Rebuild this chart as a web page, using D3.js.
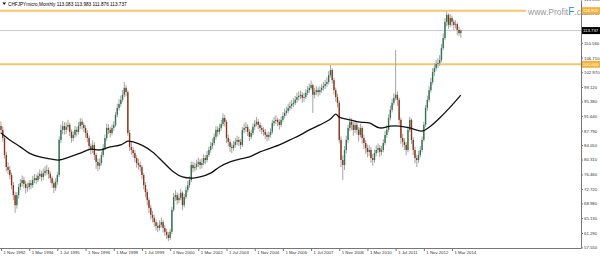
<!DOCTYPE html>
<html>
<head>
<meta charset="utf-8">
<script src="https://cdn.jsdelivr.net/npm/d3@7"></script>
<style>
  body { margin: 0; background: #fff; }
  svg { display: block; }
  text { font-family: "Liberation Sans", Arial, sans-serif; }
</style>
</head>
<body>
<svg width="600" height="256"></svg>
<script>
const title = 'CHFJPYmicro,Monthly 113.083 113.983 111.876 113.737';
const firstOpen = 89.0; // open of the first bar (Nov 1992), later opens = previous close

// monthly closes, Nov 1992 .. Aug 2014
const closes = [
  88.0,85.9,81.5,78.4,77.6,76.3,73.7,71.1,68.5,71.1,
  73.2,74.2,75.0,74.0,73.0,73.2,74.2,73.7,75.0,75.5,
  75.0,76.1,76.6,75.8,76.8,77.4,77.6,76.6,75.5,74.2,
  73.0,74.5,76.3,85.4,88.0,89.0,88.0,88.8,89.3,87.5,
  85.9,86.7,88.0,87.5,89.0,90.1,89.3,88.5,87.2,85.9,
  83.8,82.8,84.1,81.5,79.7,78.7,79.4,81.5,83.3,85.9,
  88.5,88.0,87.2,88.5,89.3,91.9,93.7,94.7,95.8,97.1,
  98.9,97.8,87.2,83.6,82.8,82.0,80.7,79.4,78.9,78.4,
  76.3,73.7,71.9,69.8,67.8,66.0,65.2,64.1,63.1,62.6,
  63.4,64.1,62.6,61.6,60.8,60.0,61.6,67.3,70.6,71.1,
  69.8,70.4,71.7,68.5,70.6,72.4,73.7,75.0,78.9,78.1,
  78.4,79.2,79.7,78.9,79.4,80.7,80.2,81.5,82.8,83.8,
  84.6,86.2,88.0,87.5,88.5,89.5,91.1,90.1,85.9,84.9,
  83.6,83.3,84.1,84.9,85.4,84.9,84.1,88.0,88.5,88.8,
  87.5,86.2,87.2,88.8,89.5,90.1,89.3,88.5,88.0,87.5,
  86.7,86.2,86.7,87.5,89.8,90.3,90.6,90.1,89.3,90.6,
  91.6,92.4,92.9,93.7,94.2,94.7,95.0,95.8,96.5,96.8,
  97.1,96.3,96.5,97.6,98.3,98.9,99.6,97.1,97.8,98.3,
  97.8,98.3,98.9,99.4,99.9,100.4,102.2,103.5,100.9,98.3,
  96.5,95.0,85.4,80.2,78.9,82.8,85.4,88.5,90.1,89.3,
  88.0,89.3,88.0,86.7,88.5,85.9,84.6,83.3,82.3,82.8,
  80.7,80.2,82.0,82.8,83.3,82.3,82.8,84.6,86.7,88.0,
  91.1,93.2,95.0,96.3,97.1,95.8,90.6,85.9,84.9,84.1,
  82.8,88.0,90.6,85.4,82.8,80.7,80.2,81.5,82.8,85.4,
  89.3,93.7,95.8,98.3,100.4,103.0,104.0,105.1,105.3,106.1,
  109.2,111.8,116.0,117.8,115.2,117.0,116.0,115.2,115.4,113.9,
  113.083,113.737
];
const highs = [
  90.2,88.9,86.5,82.4,79.6,78.7,77.0,74.5,72.0,71.9,
  74.0,75.3,76.2,75.9,74.8,74.3,75.0,75.1,76.1,76.6,
  76.4,77.0,77.8,77.4,78.0,78.6,79.0,78.3,77.2,76.0,
  74.9,75.4,77.0,86.3,89.4,90.3,90.0,89.9,90.6,89.9,
  88.1,87.6,89.0,88.8,90.0,91.1,90.9,90.0,89.2,87.9,
  86.6,84.5,85.3,84.8,82.0,80.6,80.6,82.4,84.3,86.8,
  89.6,89.5,88.7,89.4,90.3,92.7,94.8,96.0,96.9,98.3,
  100.4,99.6,98.2,88.0,84.9,83.6,82.8,81.4,80.5,79.8,
  78.9,76.9,74.5,72.6,70.5,68.6,67.0,66.0,64.8,64.0,
  64.6,65.3,64.7,63.3,62.4,61.5,62.4,68.1,71.7,72.4,
  71.8,71.5,72.7,72.1,71.4,73.3,74.8,76.0,79.8,79.8,
  79.5,80.3,80.8,80.4,80.6,81.7,81.5,82.6,83.7,84.9,
  85.8,87.1,89.0,88.9,89.6,90.6,92.3,91.9,90.6,86.8,
  85.6,84.5,85.2,85.9,86.5,86.2,85.7,88.8,89.7,90.0,
  89.5,88.2,88.1,89.7,90.6,91.3,90.8,90.0,89.3,88.7,
  88.3,87.4,87.6,88.4,90.6,91.4,91.8,91.2,90.8,91.5,
  92.6,93.5,94.0,94.8,95.3,95.8,96.2,96.8,97.6,98.0,
  98.2,97.8,97.6,98.6,99.4,100.0,100.8,100.0,98.9,99.4,
  99.0,99.3,99.9,100.5,101.0,101.6,103.2,104.8,104.0,101.5,
  99.0,97.4,95.7,86.3,81.4,83.8,86.5,89.4,91.2,91.0,
  90.0,90.5,90.2,88.8,89.6,89.0,86.8,85.4,84.2,84.0,
  83.5,81.8,82.9,84.0,84.5,84.1,83.9,85.6,87.7,89.2,
  92.0,94.3,96.1,97.5,108.7,98.0,96.4,91.2,87.0,85.8,
  84.9,88.9,91.4,91.0,86.1,83.6,81.5,82.6,83.8,86.3,
  90.1,94.5,96.9,99.3,101.5,104.0,105.3,106.2,106.5,107.4,
  110.3,113.0,117.0,118.6,118.2,118.0,117.6,116.6,116.4,115.8,
  114.8,113.983
];
const lows = [
  87.0,85.0,80.6,77.2,76.5,75.2,72.6,69.8,66.5,67.6,
  70.2,72.4,73.3,72.8,71.5,72.0,72.5,72.6,73.0,74.2,
  73.9,74.5,75.3,74.7,75.0,76.0,76.4,75.4,74.3,73.0,
  71.6,72.2,73.8,75.8,84.6,86.9,86.8,87.0,87.9,86.4,
  84.7,85.1,85.9,86.3,86.8,88.2,88.1,87.4,86.0,84.8,
  82.7,81.6,82.0,80.2,77.9,77.3,77.8,78.8,80.9,82.7,
  85.2,86.9,86.0,86.6,87.8,88.8,91.2,93.0,94.0,95.2,
  96.5,96.7,86.5,82.5,81.6,80.8,79.6,78.2,77.7,77.2,
  75.2,72.6,70.6,68.5,66.4,64.8,64.0,62.9,61.9,61.5,
  61.9,62.7,61.4,60.5,59.7,59.2,59.5,61.0,66.8,69.6,
  68.6,69.0,69.8,67.2,67.9,70.0,71.8,73.0,74.5,77.0,
  77.3,77.6,78.4,77.8,78.0,78.8,79.1,79.6,81.0,82.1,
  83.0,84.0,85.5,86.3,86.8,87.8,88.9,88.9,84.6,83.7,
  82.3,82.0,82.6,83.4,84.0,83.8,83.0,83.6,87.1,87.5,
  86.4,85.1,85.6,86.6,88.0,88.9,88.2,87.6,86.9,86.5,
  85.6,85.0,85.3,86.0,87.0,89.0,89.5,89.0,88.1,88.7,
  90.0,91.0,91.7,92.3,93.0,93.4,93.9,94.4,95.0,95.6,
  95.9,95.0,95.3,96.0,97.0,97.6,98.4,92.4,96.2,97.0,
  96.6,97.0,97.6,98.2,98.6,99.1,99.8,101.6,100.0,97.2,
  95.3,93.8,84.5,78.4,75.0,77.6,81.9,84.6,87.7,88.0,
  86.5,87.2,86.8,85.0,86.0,84.5,83.0,81.8,80.9,81.2,
  79.5,78.7,79.5,81.2,82.0,81.0,81.4,82.2,84.0,86.0,
  87.4,90.5,92.5,94.4,95.6,94.2,89.4,84.4,83.5,82.8,
  81.4,82.2,87.4,84.3,81.5,79.3,78.4,79.4,80.9,82.2,
  85.0,88.8,93.0,95.2,97.7,99.8,102.0,103.2,104.0,104.6,
  105.5,108.6,111.2,114.8,114.2,114.6,114.9,113.9,114.3,112.6,
  112.4,111.876
];

// moving average line, read at these bar indexes
const maIdx = [0,5,11,16,22,28,33,39,45,51,56,62,68,72,75,81,86,92,98,103,
  109,113,119,124,130,136,141,147,153,158,164,170,175,181,187,190,192,198,204,209,
  215,221,226,232,239,243,249,255,261];
const maVal = [87.2,85.4,83.6,82.0,81.0,80.5,80.2,81.0,82.0,83.0,82.8,83.6,84.1,85.1,84.9,83.8,82.3,79.7,77.1,75.8,
  75.5,75.8,76.8,78.4,79.7,80.5,81.0,82.3,83.3,84.1,85.4,86.7,88.0,89.3,90.8,92.1,91.3,90.6,90.0,89.8,
  88.5,89.0,89.0,88.5,87.7,88.7,91.1,93.9,97.0];

const levels = [118.9, 105.0];
const levelLabels = ['118.900', '105.000'];
const lastPrice = 113.737;

const yTicks = ['57.550','61.290','65.130','68.980','72.720','76.460','80.310','84.050','87.790',
  '91.640','95.380','99.120','102.970','106.710','110.560','114.300','118.150','121.890'];
const xTicks = ['1 Nov 1992','1 Mar 1994','1 Jul 1995','1 Nov 1996','1 Mar 1998','1 Jul 1999',
  '1 Nov 2000','1 Mar 2002','1 Jul 2003','1 Nov 2004','1 Mar 2006','1 Jul 2007','1 Nov 2008',
  '1 Mar 2010','1 Jul 2011','1 Nov 2012','1 Mar 2014'];

const W = 600, axisX = 581, axisY = 248;
const font = '"Liberation Sans", Arial, sans-serif';
const svg = d3.select('svg');

const x = d3.scaleLinear().domain([0, 256]).range([1, 452]);
const y = d3.scaleLinear().domain([57.40, 121.66]).range([axisY, 0]);

const parseTick = d3.timeParse('%d %b %Y');
const tickIndex = s => { const d = parseTick(s); return (d.getFullYear() - 1992) * 12 + d.getMonth() - 10; };

const bars = closes.map((c, i) => ({i, o: i ? closes[i-1] : firstOpen, c, h: highs[i], l: lows[i]}));

svg.append('clipPath').attr('id', 'plot').append('rect')
  .attr('x', 0).attr('y', 0).attr('width', axisX).attr('height', axisY);

const plot = svg.append('g').attr('clip-path', 'url(#plot)');

// horizontal levels
plot.selectAll('line.lvl').data(levels).enter().append('line')
  .attr('x1', 0).attr('x2', axisX).attr('y1', d => y(d)).attr('y2', d => y(d))
  .attr('stroke', '#f9c46b').attr('stroke-width', 2);

// bid line
plot.append('line').attr('x1', 0).attr('x2', axisX).attr('y1', y(lastPrice)).attr('y2', y(lastPrice))
  .attr('stroke', '#c8c8c8').attr('stroke-width', 1);

// wicks
plot.selectAll('line.wick').data(bars).enter().append('line')
  .attr('x1', d => x(d.i)).attr('x2', d => x(d.i))
  .attr('y1', d => y(d.h)).attr('y2', d => y(d.l))
  .attr('stroke', '#a4a4a4').attr('stroke-width', 1);

// bodies
plot.selectAll('rect.body').data(bars).enter().append('rect')
  .attr('x', d => x(d.i) - 0.7).attr('width', 1.4)
  .attr('y', d => y(Math.max(d.o, d.c)))
  .attr('height', d => Math.max(0.8, Math.abs(y(d.o) - y(d.c))))
  .attr('fill', d => d.c >= d.o ? '#2f7550' : '#8f3414');

// moving average
plot.append('path').datum(maIdx.map((k, j) => [k, maVal[j]]))
  .attr('fill', 'none').attr('stroke', '#111').attr('stroke-width', 1.3)
  .attr('d', d3.line().x(d => x(d[0])).y(d => y(d[1])).curve(d3.curveCatmullRom));

// right axis
const ya = svg.append('g').attr('transform', `translate(${axisX},0)`)
  .call(d3.axisRight(y).tickValues(yTicks.map(Number)).tickFormat((d, i) => yTicks[i])
    .tickSize(2).tickSizeOuter(0).tickPadding(1));
ya.select('.domain').attr('stroke', '#777');
ya.selectAll('.tick line').attr('stroke', '#777');
ya.selectAll('.tick text').attr('font-size', 4.3).attr('fill', '#333').attr('font-family', font);

// bottom axis
svg.append('line').attr('x1', 0).attr('x2', axisX).attr('y1', axisY + 0.5).attr('y2', axisY + 0.5)
  .attr('stroke', '#777');
const xa = svg.append('g').attr('transform', `translate(0,${axisY})`)
  .call(d3.axisBottom(x).tickValues(xTicks.map(tickIndex)).tickFormat((d, i) => xTicks[i]).tickSize(3).tickSizeOuter(0));
xa.select('.domain').remove();
xa.selectAll('.tick line').attr('stroke', '#777');
xa.selectAll('.tick text').attr('text-anchor', 'start').attr('x', 2).attr('y', 6.3).attr('dy', 0)
  .attr('font-size', 4.3).attr('fill', '#333').attr('font-family', font);

// watermark
svg.append('rect').attr('x', 526).attr('y', 6).attr('width', 55).attr('height', 11).attr('fill', '#fff');
const wm = svg.append('text').attr('x', 528).attr('y', 14.5).attr('font-size', 8.5).attr('fill', '#999');
wm.append('tspan').text('www.Profit');
wm.append('tspan').text('F').attr('fill', '#2b8fc0').attr('font-size', 10);
wm.append('tspan').text('.com');

// level price boxes
levels.forEach((v, k) => {
  svg.append('rect').attr('x', axisX + 1).attr('y', y(v) - 3.5).attr('width', W - axisX - 1).attr('height', 7).attr('fill', '#f4b23c');
  svg.append('text').attr('x', axisX + 2).attr('y', y(v) + 1.6).attr('font-size', 4.3).attr('fill', '#fff').text(levelLabels[k]);
});
svg.append('rect').attr('x', axisX + 1).attr('y', y(lastPrice) - 3.5).attr('width', W - axisX - 1).attr('height', 7).attr('fill', '#000');
svg.append('text').attr('x', axisX + 2).attr('y', y(lastPrice) + 1.6).attr('font-size', 4.3).attr('fill', '#fff')
  .text(d3.format('.3f')(lastPrice));

// title
svg.append('path').attr('d', 'M2.5,2.5 L6,2.5 L4.25,5 Z').attr('fill', '#000');
svg.append('text').attr('x', 8).attr('y', 5.5).attr('font-size', 4.7).attr('fill', '#000').text(title);
</script>
</body>
</html>
